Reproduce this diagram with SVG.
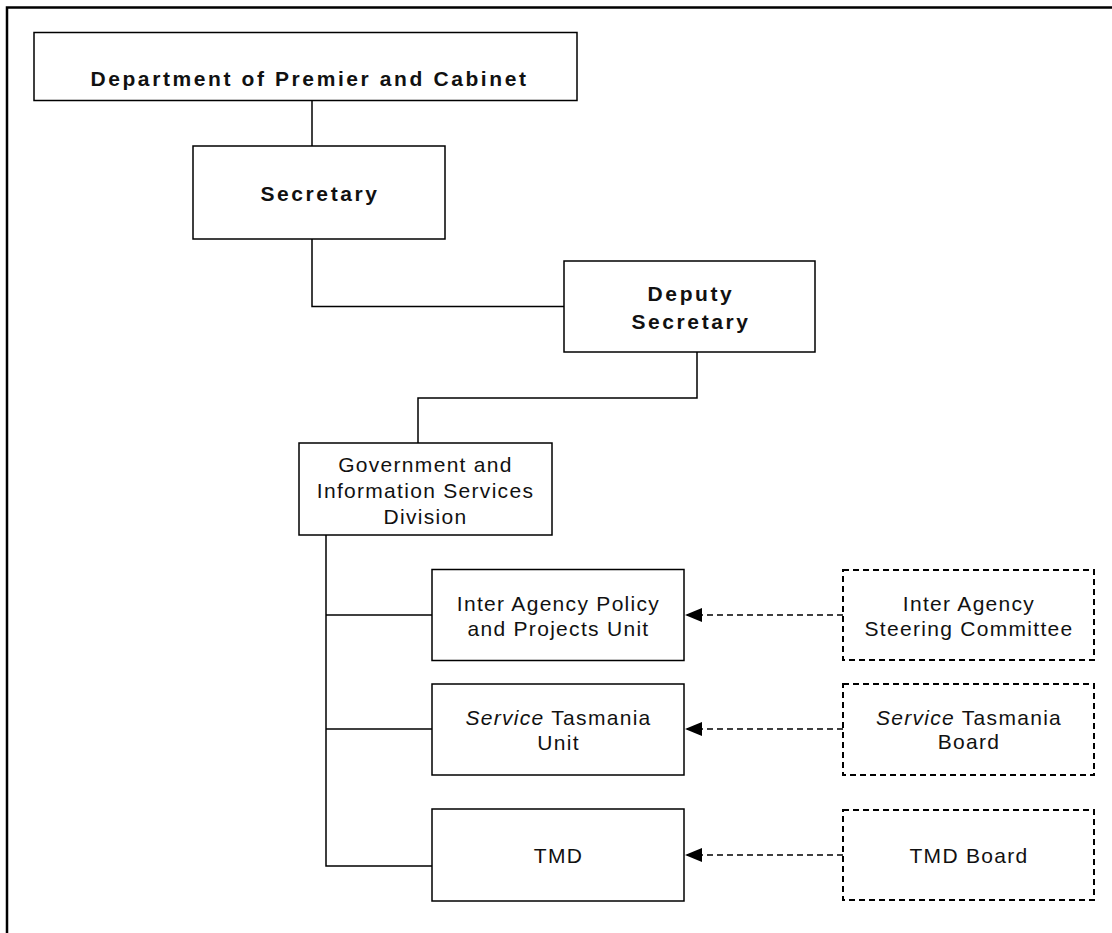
<svg xmlns="http://www.w3.org/2000/svg" width="1112" height="933" viewBox="0 0 1112 933">
<style>
.box{fill:#fff;stroke:#000;stroke-width:1.5}
.dbox{fill:#fff;stroke:#000;stroke-width:2;stroke-dasharray:6,4}
.ln{fill:none;stroke:#000;stroke-width:1.5}
.dl{fill:none;stroke:#000;stroke-width:1.5;stroke-dasharray:6,4}
text{font-family:"Liberation Sans",Arial,sans-serif;font-size:21px;fill:#111;text-anchor:middle}
.b{font-weight:bold;letter-spacing:2.6px}
.r{letter-spacing:1.3px}
</style>
<defs>
<marker id="ah" markerWidth="17" markerHeight="14" refX="17" refY="7" orient="auto" markerUnits="userSpaceOnUse">
<path d="M0,0 L17,7 L0,14 Z" fill="#000"/>
</marker>
</defs>
<path d="M7,933 V7.5 H1112" fill="none" stroke="#000" stroke-width="2.5"/>
<g id="connectors">
<path class="ln" d="M312,101 V146"/>
<path class="ln" d="M312,239 V306.5 H564"/>
<path class="ln" d="M697,352 V398 H418 V443"/>
<path class="ln" d="M326,535 V866 H432"/>
<path class="ln" d="M326,615 H432"/>
<path class="ln" d="M326,729 H432"/>
<path class="dl" d="M843,615 H685" marker-end="url(#ah)"/>
<path class="dl" d="M843,729 H685" marker-end="url(#ah)"/>
<path class="dl" d="M843,855 H685" marker-end="url(#ah)"/>
</g>
<g id="dept">
<rect class="box" x="34" y="32.5" width="543" height="68"/>
<text class="b" x="309.5" y="86">Department of Premier and Cabinet</text>
</g>
<g id="secretary">
<rect class="box" x="193" y="146" width="252" height="93"/>
<text class="b" x="320" y="201">Secretary</text>
</g>
<g id="deputy">
<rect class="box" x="564" y="261" width="251" height="91"/>
<text class="b" x="691" y="301">Deputy</text>
<text class="b" x="691" y="329">Secretary</text>
</g>
<g id="gisd">
<rect class="box" x="299" y="443" width="253" height="92"/>
<text class="r" x="425.5" y="472">Government and</text>
<text class="r" x="425.5" y="498">Information Services</text>
<text class="r" x="425.5" y="524">Division</text>
</g>
<g id="iappu">
<rect class="box" x="432" y="569.5" width="252" height="91"/>
<text class="r" x="558.5" y="611">Inter Agency Policy</text>
<text class="r" x="558.5" y="636">and Projects Unit</text>
</g>
<g id="stu">
<rect class="box" x="432" y="684" width="252" height="91"/>
<text class="r" x="558.5" y="725"><tspan font-style="italic">Service</tspan> Tasmania</text>
<text class="r" x="558.5" y="750">Unit</text>
</g>
<g id="tmd">
<rect class="box" x="432" y="809" width="252" height="92"/>
<text class="r" x="558.5" y="863">TMD</text>
</g>
<g id="iasc">
<rect class="dbox" x="843" y="570" width="251" height="90"/>
<text class="r" x="969" y="611">Inter Agency</text>
<text class="r" x="969" y="636">Steering Committee</text>
</g>
<g id="stb">
<rect class="dbox" x="843" y="684" width="251" height="91"/>
<text class="r" x="969" y="725"><tspan font-style="italic">Service</tspan> Tasmania</text>
<text class="r" x="969" y="749">Board</text>
</g>
<g id="tmdb">
<rect class="dbox" x="843" y="810" width="251" height="90"/>
<text class="r" x="969" y="863">TMD Board</text>
</g>
</svg>
